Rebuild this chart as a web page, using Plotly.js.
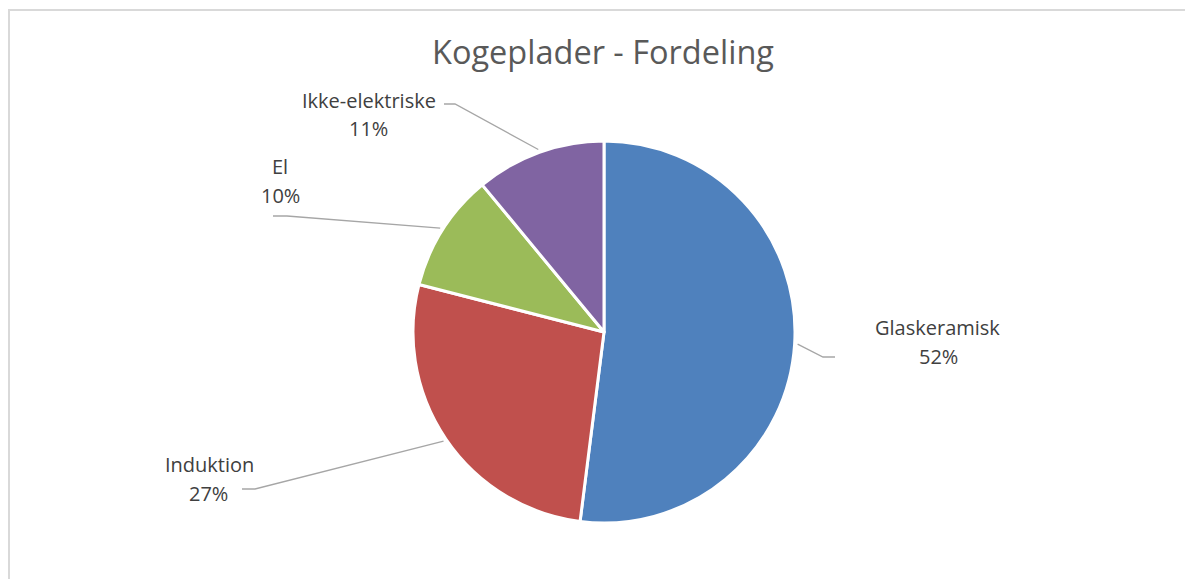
<!DOCTYPE html>
<html>
<head>
<meta charset="utf-8">
<script src="https://cdn.plot.ly/plotly-3.0.1.min.js"></script>
<style>html,body{margin:0;padding:0;background:#fff;}#chart{width:1185px;height:579px;}</style>
</head>
<body>
<div id="chart"></div>
<script>
// ---- data ----
const categories = ["Glaskeramisk", "Induktion", "El", "Ikke-elektriske"];
const shares = [52, 27, 10, 11];
const colors = ["#4F81BD", "#C0504D", "#9BBB59", "#8064A2"];
const chartTitle = "Kogeplader - Fordeling";

// ---- layout (pixels) ----
const W = 1185, H = 579;
const cx = 604, cy = 332, R = 191;
// label block anchors: [name center x, name y, pct center x, pct y]
const labelAnchors = [
  [937, 327, 938, 356],
  [209, 464, 208, 493],
  [280, 166, 280, 196],
  [369, 100, 368, 128]
];
// leader line elbow and end points
const leaderPts = [
  [[823, 357], [835, 357]],
  [[255, 489], [242, 489]],
  [[287, 216], [273, 216]],
  [[455, 104], [444, 104]]
];

const px = x => x / W;
const py = y => 1 - y / H;

const total = shares.reduce((a, b) => a + b, 0);
const annotations = [];
const shapes = [];
let cum = 0;
shares.forEach((v, i) => {
  const mid = (cum + v / 2) / total * 2 * Math.PI;
  cum += v;
  const sx = cx + (R + 3) * Math.sin(mid);
  const sy = cy - (R + 3) * Math.cos(mid);
  const [e1, e2] = leaderPts[i];
  shapes.push({
    type: "path", xref: "paper", yref: "paper",
    path: `M ${px(sx)} ${py(sy)} L ${px(e1[0])} ${py(e1[1])} L ${px(e2[0])} ${py(e2[1])}`,
    line: {color: "#A6A6A6", width: 1.3}
  });
  const a = labelAnchors[i];
  annotations.push({
    xref: "paper", yref: "paper", x: px(a[0]), y: py(a[1]), xanchor: "center", yanchor: "middle",
    text: categories[i], showarrow: false, font: {family: "Open Sans", size: 20, color: "#404040"}
  });
  annotations.push({
    xref: "paper", yref: "paper", x: px(a[2]), y: py(a[3]), xanchor: "center", yanchor: "middle",
    text: Math.round(v / total * 100) + "%", showarrow: false, font: {family: "Open Sans", size: 20, color: "#404040"}
  });
});

// chart frame
shapes.push({type: "line", xref: "paper", yref: "paper", x0: px(8), x1: px(1185), y0: py(10), y1: py(10), line: {color: "#D9D9D9", width: 2}});
shapes.push({type: "line", xref: "paper", yref: "paper", x0: px(9), x1: px(9), y0: py(9), y1: py(579), line: {color: "#D9D9D9", width: 2}});

const trace = {
  type: "pie",
  labels: categories,
  values: shares,
  sort: false,
  direction: "clockwise",
  rotation: 0,
  textinfo: "none",
  hoverinfo: "label+percent",
  marker: {colors: colors, line: {color: "#FFFFFF", width: 3}},
  domain: {x: [px(cx - R), px(cx + R)], y: [py(cy + R), py(cy - R)]},
  showlegend: false
};

const layout = {
  width: W, height: H,
  margin: {l: 0, r: 0, t: 0, b: 0},
  paper_bgcolor: "#FFFFFF",
  showlegend: false,
  title: {
    text: chartTitle, x: px(603), y: py(53), xref: "paper", yref: "paper",
    xanchor: "center", yanchor: "middle",
    font: {family: "Open Sans", size: 32.5, color: "#595959"}
  },
  annotations: annotations,
  shapes: shapes
};

Plotly.newPlot("chart", [trace], layout, {displayModeBar: false, staticPlot: true});
</script>
</body>
</html>
